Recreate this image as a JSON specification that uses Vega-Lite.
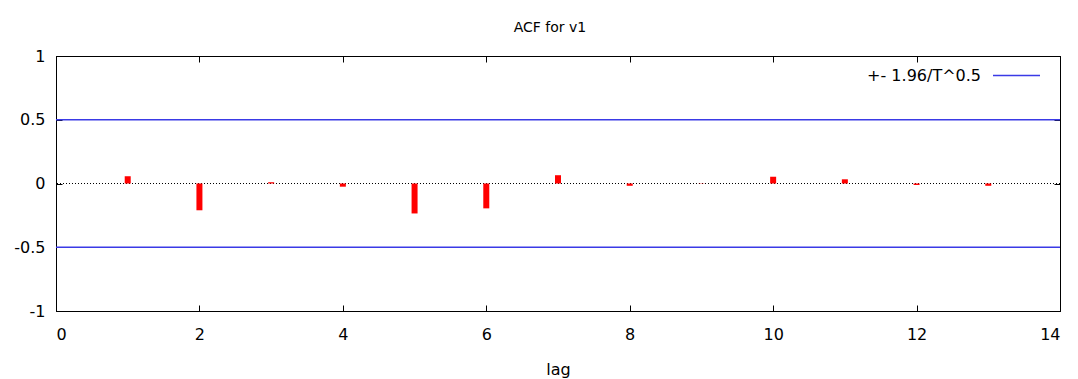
{
  "$schema": "https://vega.github.io/schema/vega-lite/v6.json",
  "width": 1004,
  "height": 255,
  "autosize": "none",
  "padding": {"left": 56, "top": 56, "right": 18, "bottom": 68},
  "background": "white",
  "title": {"text": "ACF for v1", "font": "DejaVu Sans", "fontSize": 14, "fontWeight": "normal", "color": "black", "anchor": "middle", "offset": 13, "dx": -8},
  "config": {
    "view": {"stroke": "black", "strokeWidth": 1},
    "font": "DejaVu Sans",
    "axis": {"grid": false, "domainColor": "black", "tickColor": "black", "labelColor": "black", "labelFont": "DejaVu Sans", "labelFontSize": 16, "titleFont": "DejaVu Sans", "titleFontSize": 16, "titleFontWeight": "normal", "titleColor": "black", "tickSize": -6, "domainWidth": 1, "tickWidth": 1}
  },
  "datasets": {
    "acf": [
      {"lag": 1, "acf": 0.057},
      {"lag": 2, "acf": -0.21},
      {"lag": 3, "acf": 0.01},
      {"lag": 4, "acf": -0.025},
      {"lag": 5, "acf": -0.235},
      {"lag": 6, "acf": -0.195},
      {"lag": 7, "acf": 0.065},
      {"lag": 8, "acf": -0.018},
      {"lag": 9, "acf": 0.002},
      {"lag": 10, "acf": 0.053},
      {"lag": 11, "acf": 0.033},
      {"lag": 12, "acf": -0.012},
      {"lag": 13, "acf": -0.018}
    ],
    "bands": [
      {"series": "+- 1.96/T^0.5", "bound": 0.5},
      {"series": "+- 1.96/T^0.5", "bound": -0.5}
    ]
  },
  "layer": [
    {
      "data": {"name": "acf"},
      "mark": {"type": "point", "opacity": 0},
      "encoding": {
        "x": {"field": "lag", "type": "quantitative", "scale": {"domain": [0, 14], "nice": false, "zero": false, "padding": 0}, "axis": {"orient": "top", "values": [0,2,4,6,8,10,12,14], "labels": false, "title": null, "domain": true}},
        "y": {"field": "acf", "type": "quantitative", "scale": {"domain": [-1, 1], "nice": false, "padding": 0}, "axis": {"orient": "right", "values": [-1,-0.5,0,0.5,1], "labels": false, "title": null}}
      }
    },
    {
      "data": {"name": "bands"},
      "mark": {"type": "rule", "strokeWidth": 1.5},
      "encoding": {
        "y": {"field": "bound", "type": "quantitative", "axis": null},
        "color": {"field": "series", "type": "nominal", "scale": {"domain": ["+- 1.96/T^0.5"], "range": ["#3a3ae6"]},
          "legend": {"title": null, "orient": "none", "legendX": 936, "legendY": -5, "symbolType": "stroke", "symbolSize": 2209, "symbolStrokeWidth": 1.5, "labelAlign": "right", "labelOffset": -60, "labelFont": "DejaVu Sans", "labelFontSize": 16, "labelColor": "black", "labelLimit": 400}}
      }
    },
    {
      "data": {"name": "acf"},
      "mark": {"type": "rule", "color": "black", "strokeWidth": 1, "strokeDash": [1, 2]},
      "encoding": {"y": {"datum": 0, "axis": null}}
    },
    {
      "data": {"name": "acf"},
      "mark": {"type": "bar", "color": "#ff0000", "width": 6},
      "encoding": {
        "x": {"field": "lag", "type": "quantitative", "axis": {"orient": "bottom", "values": [0,2,4,6,8,10,12,14], "title": "lag", "labelPadding": 21, "titlePadding": 19}},
        "y": {"field": "acf", "type": "quantitative", "axis": {"orient": "left", "values": [-1,-0.5,0,0.5,1], "title": null, "labelPadding": 17, "labelExpr": "datum.value < 0 ? '-' + format(-datum.value, '~g') : format(datum.value, '~g')"}},
        "y2": {"datum": 0}
      }
    }
  ],
  "resolve": {"axis": {"x": "independent", "y": "independent"}}
}
